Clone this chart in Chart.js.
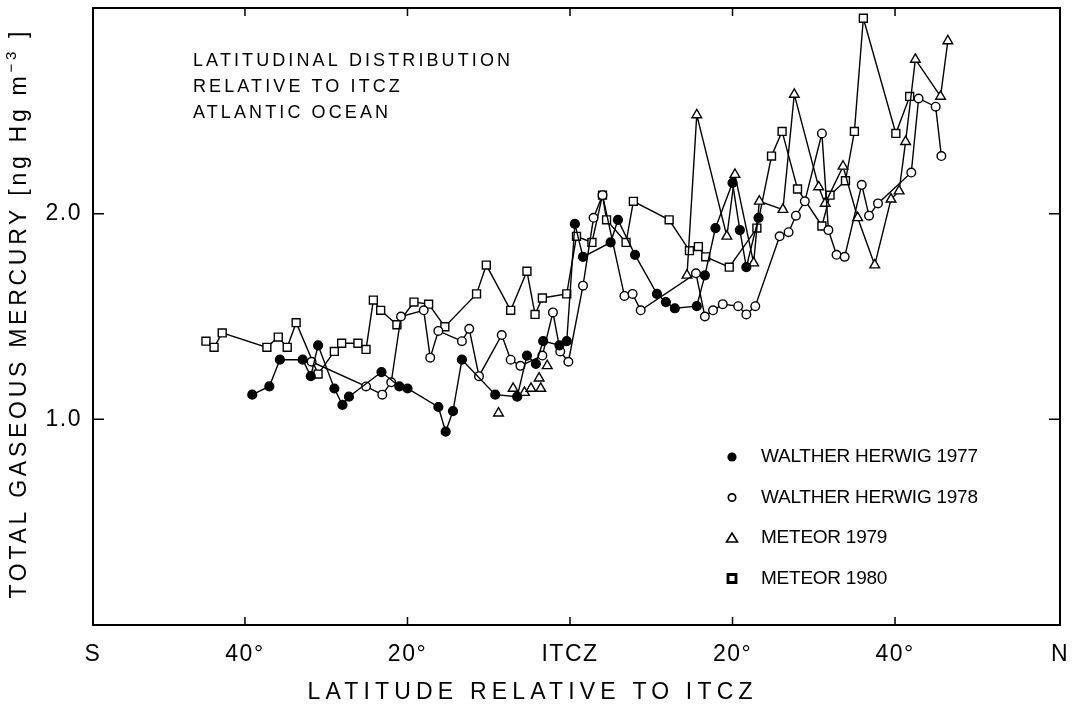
<!DOCTYPE html>
<html>
<head>
  <title>Total Gaseous Mercury vs Latitude</title>
  <script src="https://cdn.jsdelivr.net/npm/chart.js"></script>
  <style>
    body {
      margin: 0;
      background: #fff;
      font-family: "Liberation Sans", Arial, sans-serif;
    }
    .chart-container {
      width: 1072px;
      height: 714px;
    }
  </style>
</head>
<body>
  <div class="chart-container">
    <canvas id="myChart" width="1072" height="714"></canvas>
  </div>
  <script>
    // latitude relative to ITCZ in degrees (negative = south), mercury in ng Hg m-3
    const wh77Lat = [-39.1, -37.0, -35.7, -32.9, -31.9, -31.0, -29.0, -28.0, -27.2, -23.2, -21.0, -20.0, -16.2, -15.3, -14.4, -13.3, -9.2, -6.5, -5.3, -4.2, -3.3, -1.3, -0.4, 0.6, 1.6, 5.0, 5.9, 8.0, 10.7, 11.8, 12.9, 15.6, 16.6, 17.9, 20.0, 20.9, 21.7, 23.2];
    const wh77Val = [1.12, 1.16, 1.29, 1.29, 1.21, 1.36, 1.15, 1.07, 1.11, 1.23, 1.16, 1.15, 1.06, 0.94, 1.04, 1.29, 1.12, 1.11, 1.31, 1.27, 1.38, 1.36, 1.38, 1.95, 1.79, 1.86, 1.97, 1.80, 1.61, 1.57, 1.54, 1.55, 1.70, 1.93, 2.15, 1.92, 1.74, 1.98];

    const wh78Lat = [-31.8, -25.1, -23.1, -22.0, -20.8, -18.0, -17.2, -16.2, -13.3, -12.4, -11.2, -8.4, -7.3, -6.1, -3.4, -2.1, -1.2, -0.2, 1.6, 2.9, 4.0, 6.7, 7.7, 8.7, 15.5, 16.6, 17.6, 18.8, 20.7, 21.7, 22.8, 25.8, 26.9, 27.8, 28.9, 31.0, 31.8, 32.8, 33.8, 35.9, 36.8, 37.9, 42.0, 42.9, 45.0, 45.7];
    const wh78Val = [1.28, 1.16, 1.12, 1.18, 1.50, 1.53, 1.30, 1.43, 1.38, 1.44, 1.21, 1.41, 1.29, 1.26, 1.31, 1.52, 1.33, 1.28, 1.65, 1.98, 2.09, 1.60, 1.61, 1.53, 1.71, 1.50, 1.53, 1.56, 1.55, 1.51, 1.55, 1.89, 1.91, 1.99, 2.06, 2.39, 1.92, 1.80, 1.79, 2.14, 1.99, 2.05, 2.20, 2.56, 2.52, 2.28];

    // Meteor 1979: southern stations are not joined by a line
    const me79SouthLat = [-8.8, -7.0, -5.6, -4.8, -3.8, -3.6, -2.8];
    const me79SouthVal = [1.03, 1.15, 1.13, 1.15, 1.20, 1.15, 1.26];
    const me79NorthLat = [14.4, 15.6, 19.3, 20.3, 22.6, 23.3, 26.2, 27.6, 30.6, 31.4, 33.6, 35.4, 37.5, 39.5, 40.5, 41.3, 42.5, 45.6, 46.5];
    const me79NorthVal = [1.70, 2.48, 1.89, 2.19, 1.76, 2.06, 2.02, 2.58, 2.13, 2.05, 2.23, 1.98, 1.75, 2.07, 2.11, 2.35, 2.75, 2.57, 2.84];

    const me80Lat = [-44.8, -43.8, -42.8, -37.3, -35.9, -34.8, -33.7, -31.0, -29.0, -28.1, -26.1, -25.1, -24.2, -23.3, -21.3, -19.2, -17.4, -15.4, -11.5, -10.3, -7.3, -5.3, -4.3, -3.4, -0.4, 0.8, 2.7, 4.0, 4.5, 6.9, 7.8, 12.2, 14.7, 15.8, 16.7, 19.6, 23.0, 24.8, 26.1, 28.0, 31.0, 32.0, 33.9, 35.0, 36.1, 40.1, 41.8];
    const me80Val = [1.38, 1.35, 1.42, 1.35, 1.40, 1.35, 1.47, 1.22, 1.33, 1.37, 1.37, 1.34, 1.58, 1.53, 1.46, 1.57, 1.56, 1.45, 1.61, 1.75, 1.53, 1.72, 1.51, 1.59, 1.61, 1.89, 1.86, 2.09, 1.97, 1.86, 2.06, 1.97, 1.82, 1.84, 1.79, 1.74, 1.93, 2.28, 2.40, 2.12, 1.94, 2.09, 2.16, 2.40, 2.95, 2.39, 2.57];

    const legendLabels = ['WALTHER HERWIG 1977', 'WALTHER HERWIG 1978', 'METEOR 1979', 'METEOR 1980'];
    const noteLines = ['LATITUDINAL DISTRIBUTION', 'RELATIVE TO ITCZ', 'ATLANTIC OCEAN'];

    const latMin = -58.7, latMax = 60.3;
    const latTicks = [-40, -20, 0, 20, 40];
    const latTickLabels = ['S', '40°', '20°', 'ITCZ', '20°', '40°', 'N'];
    const valTicks = [1.0, 2.0];

    const FONT = '"Liberation Sans", Arial, sans-serif';

    function series(lat, val) {
      return lat.map(function (x, i) { return { x: x, y: val[i] }; });
    }

    function spacedText(ctx, text, x, y, width, align) {
      ctx.letterSpacing = '0px';
      var natural = ctx.measureText(text).width;
      var ls = (width - natural) / (text.length - 1);
      ctx.letterSpacing = ls + 'px';
      ctx.textAlign = 'left';
      ctx.fillText(text, align === 'center' ? x - width / 2 : x, y);
      return ls;
    }

    function symbol(ctx, kind, x, y) {
      ctx.beginPath();
      if (kind === 0) {
        ctx.arc(x, y, 4.6, 0, Math.PI * 2);
        ctx.fill();
        return;
      }
      if (kind === 1) {
        ctx.lineWidth = 1.7;
        ctx.arc(x, y, 3.7, 0, Math.PI * 2);
      } else if (kind === 2) {
        ctx.lineWidth = 1.6;
        ctx.moveTo(x, y - 5);
        ctx.lineTo(x + 5.5, y + 4);
        ctx.lineTo(x - 5.5, y + 4);
        ctx.closePath();
      } else {
        ctx.lineWidth = 2.8;
        ctx.rect(x - 4, y - 4, 8, 8);
      }
      ctx.stroke();
    }

    const frame = {
      id: 'frame',
      beforeDraw(chart) {
        chart.ctx.letterSpacing = '1.5px';
      },
      afterDraw(chart) {
        const ctx = chart.ctx;
        const a = chart.chartArea;
        const x = chart.scales.x, y = chart.scales.y;
        ctx.save();
        ctx.letterSpacing = '0px';
        ctx.strokeStyle = '#000';
        ctx.fillStyle = '#000';
        ctx.lineWidth = 2;
        ctx.strokeRect(a.left, a.top, a.right - a.left, a.bottom - a.top);

        // inward tick marks on all four sides
        ctx.lineWidth = 1.5;
        ctx.beginPath();
        latTicks.forEach(function (v) {
          var px = x.getPixelForValue(v);
          ctx.moveTo(px, a.bottom); ctx.lineTo(px, a.bottom - 8);
          ctx.moveTo(px, a.top); ctx.lineTo(px, a.top + 8);
        });
        valTicks.forEach(function (v) {
          var py = y.getPixelForValue(v);
          ctx.moveTo(a.left, py); ctx.lineTo(a.left + 11, py);
          ctx.moveTo(a.right, py); ctx.lineTo(a.right - 11, py);
        });
        ctx.stroke();

        ctx.textBaseline = 'middle';
        ctx.font = '18px ' + FONT;
        var ls = 0;
        noteLines.forEach(function (t, i) {
          if (i === 0) {
            ls = spacedText(ctx, t, 193, 61, 317, 'left');
          } else {
            ctx.letterSpacing = ls + 'px';
            ctx.fillText(t, 193, 61 + i * 26);
          }
        });

        ctx.font = '19px ' + FONT;
        var lls = 0;
        legendLabels.forEach(function (t, i) {
          var ry = 457 + i * 40.5;
          symbol(ctx, i, 732, ry);
          if (i === 0) {
            lls = spacedText(ctx, t, 761, ry, 217, 'left');
          } else {
            ctx.letterSpacing = lls + 'px';
            ctx.fillText(t, 761, ry);
          }
        });

        ctx.font = '23px ' + FONT;
        spacedText(ctx, 'LATITUDE RELATIVE TO ITCZ', 530, 693, 445, 'center');

        // y title, rotated, with superscript
        ctx.translate(20, 315);
        ctx.rotate(-Math.PI / 2);
        var parts = [['TOTAL GASEOUS MERCURY [ng Hg m', 23, 0], ['\u22123', 15, -8], [' ]', 23, 0]];
        ctx.letterSpacing = '0px';
        var natural = 0, chars = 0;
        parts.forEach(function (p) {
          ctx.font = p[1] + 'px ' + FONT;
          natural += ctx.measureText(p[0]).width;
          chars += p[0].length;
        });
        var target = 567;
        var yls = (target - natural) / (chars - 1);
        var cx = -target / 2;
        parts.forEach(function (p) {
          ctx.font = p[1] + 'px ' + FONT;
          ctx.letterSpacing = yls + 'px';
          ctx.fillText(p[0], cx, p[2]);
          cx += ctx.measureText(p[0]).width;
        });
        ctx.restore();
      }
    };

    const common = {
      borderColor: '#000',
      borderWidth: 1.4,
      pointBorderColor: '#000',
      pointBorderWidth: 1.4,
      tension: 0,
      fill: false
    };

    const ctx = document.getElementById('myChart').getContext('2d');
    const chart = new Chart(ctx, {
      type: 'line',
      data: {
        datasets: [
          Object.assign({ label: legendLabels[0], data: series(wh77Lat, wh77Val), pointStyle: 'circle', pointRadius: 4.4, pointBackgroundColor: '#000' }, common),
          Object.assign({ label: legendLabels[1], data: series(wh78Lat, wh78Val), pointStyle: 'circle', pointRadius: 4.3, pointBackgroundColor: '#fff' }, common),
          Object.assign({ label: legendLabels[2], data: series(me79NorthLat, me79NorthVal), pointStyle: 'triangle', pointRadius: 5.6, pointBackgroundColor: '#fff' }, common),
          Object.assign({ label: legendLabels[2], data: series(me79SouthLat, me79SouthVal), pointStyle: 'triangle', pointRadius: 5.6, pointBackgroundColor: '#fff' }, common, { showLine: false }),
          Object.assign({ label: legendLabels[3], data: series(me80Lat, me80Val), pointStyle: 'rect', pointRadius: 5.6, pointBackgroundColor: '#fff' }, common)
        ]
      },
      options: {
        responsive: false,
        animation: false,
        devicePixelRatio: 1,
        layout: { padding: { top: 8, right: 12, left: 0, bottom: 0 } },
        plugins: {
          legend: { display: false },
          tooltip: { enabled: false }
        },
        scales: {
          x: {
            type: 'linear',
            min: latMin,
            max: latMax,
            grid: { display: false, drawTicks: false },
            border: { display: false },
            afterBuildTicks: function (scale) {
              scale.ticks = [latMin].concat(latTicks, [latMax]).map(function (v) { return { value: v }; });
            },
            afterFit: function (scale) {
              scale.height = 89;
              scale.paddingLeft = 0;
              scale.paddingRight = 0;
            },
            ticks: {
              autoSkip: false,
              maxRotation: 0,
              padding: 16,
              color: '#000',
              font: { family: FONT, size: 23 },
              callback: function (value, index) { return latTickLabels[index]; }
            }
          },
          y: {
            min: 0,
            max: 3,
            grid: { display: false, drawTicks: false },
            border: { display: false },
            afterBuildTicks: function (scale) {
              scale.ticks = valTicks.map(function (v) { return { value: v }; });
            },
            afterFit: function (scale) {
              scale.width = 93;
              scale.paddingTop = 0;
              scale.paddingBottom = 0;
            },
            ticks: {
              padding: 11,
              color: '#000',
              font: { family: FONT, size: 23 },
              callback: function (value) { return value.toFixed(1); }
            }
          }
        }
      },
      plugins: [frame]
    });
  </script>
</body>
</html>
